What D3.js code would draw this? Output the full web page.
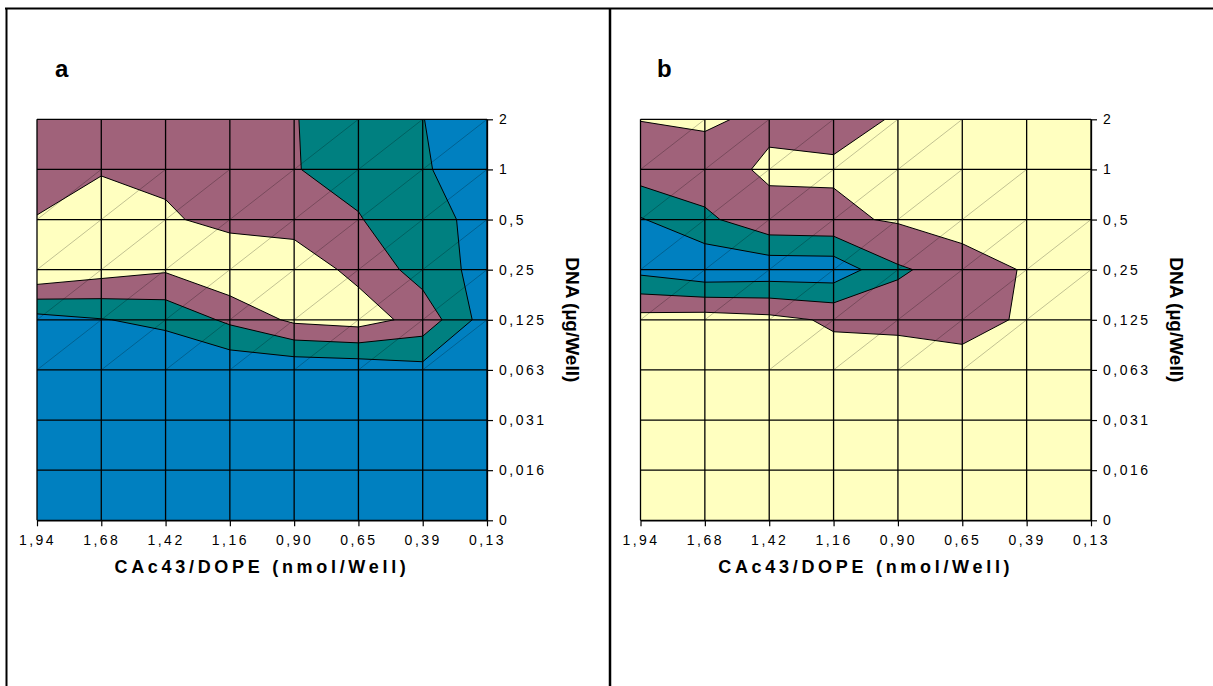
<!DOCTYPE html>
<html>
<head>
<meta charset="utf-8">
<script src="https://cdnjs.cloudflare.com/ajax/libs/d3/7.8.5/d3.min.js"></script>
<style>
body{margin:0;background:#fff;}
svg{display:block;font-family:Arial,'Liberation Sans',sans-serif;}
</style>
</head>
<body>
<div id="chart"></div>
<script>
// axis categories
const xLabels = ['1,94','1,68','1,42','1,16','0,90','0,65','0,39','0,13'];
const yLabels = ['2','1','0,5','0,25','0,125','0,063','0,031','0,016','0'];

// contour levels and band colours (lowest band first)
const thresholds = [1, 2, 3];
const bandColors = ['#0080C0', '#008080', '#A0627A', '#FFFFC0'];

// grid values, one row per DNA level (top = 2)
const panelA = [
  [2.6, 2.88, 2.79, 2.5, 2.04, 1.5, 1.02, 0.3],
  [2.6, 2.88, 2.79, 2.5, 2.04, 1.68, 1.1, 0.45],
  [3.04, 3.8, 3.14, 2.68, 2.67, 2.06, 1.3, 0.73],
  [4.0, 3.44, 3.11, 3.87, 3.5, 2.76, 1.57, 0.62],
  [0.6, 0.95, 1.26, 2.2, 3.21, 3.45, 2.64, 0.51],
  [0.3, 0.3, 0.05, 0.2, 0.21, 0.3, 0.68, 0.3],
  [0.3, 0.3, 0.05, 0.2, 0.21, 0.3, 0.68, 0.3],
  [0.3, 0.3, 0.05, 0.2, 0.21, 0.3, 0.68, 0.3],
  [0.3, 0.3, 0.05, 0.2, 0.21, 0.3, 0.68, 0.3]
];
const panelB = [
  [3.02, 3.1, 2.85, 2.76, 3.06, 3.5, 3.5, 3.5],
  [2.52, 2.69, 3.12, 3.1, 3.3, 3.5, 3.5, 3.5],
  [0.93, 1.77, 2.75, 2.83, 3.1, 3.53, 3.5, 3.5],
  [0.71, 0.17, 0.3, 0.33, 1.87, 2.43, 3.1, 3.5],
  [3.38, 3.5, 3.3, 2.85, 2.52, 2.5, 3.19, 3.5],
  [3.38, 3.5, 3.3, 3.48, 4.07, 3.52, 3.19, 3.5],
  [3.38, 3.5, 3.3, 3.48, 4.07, 3.52, 3.19, 3.5],
  [3.38, 3.5, 3.3, 3.48, 4.07, 3.52, 3.19, 3.5],
  [3.38, 3.5, 3.3, 3.48, 4.07, 3.52, 3.19, 3.5]
];

const xTitle = 'CAc43/DOPE (nmol/Well)';
const yTitle = 'DNA (\u00b5g/Well)';

const width = 1213, height = 686;
const svg = d3.select('#chart').append('svg')
  .attr('width', width).attr('height', height);
svg.append('rect').attr('width', width).attr('height', height).attr('fill', '#fff');

// table frame
svg.append('line').attr('x1', 5).attr('x2', width).attr('y1', 8.5).attr('y2', 8.5)
  .attr('stroke', '#000').attr('stroke-width', 2);
svg.append('line').attr('x1', 6.5).attr('x2', 6.5).attr('y1', 8).attr('y2', height)
  .attr('stroke', '#000').attr('stroke-width', 2);
svg.append('line').attr('x1', 610).attr('x2', 610).attr('y1', 8).attr('y2', height)
  .attr('stroke', '#000').attr('stroke-width', 2.5);

drawPanel(panelA, {id: 'a', left: 37, top: 119.3, w: 450, h: 401, letterX: 55});
drawPanel(panelB, {id: 'b', left: 640.5, top: 119.3, w: 450.5, h: 401, letterX: 657});

function drawPanel(rows, o) {
  const nx = xLabels.length, ny = yLabels.length;
  const g = svg.append('g').attr('transform', `translate(${o.left},${o.top})`);

  const x = d3.scalePoint().domain(xLabels).range([0, o.w]);
  const y = d3.scalePoint().domain(yLabels).range([0, o.h]);
  const xi = d3.scaleLinear().domain([0, nx - 1]).range([0, o.w]);
  const yi = d3.scaleLinear().domain([0, ny - 1]).range([0, o.h]);

  svg.append('clipPath').attr('id', 'clip-' + o.id)
    .append('rect').attr('width', o.w).attr('height', o.h);
  const plot = g.append('g').attr('clip-path', `url(#clip-${o.id})`);

  plot.append('rect').attr('width', o.w).attr('height', o.h).attr('fill', bandColors[0]);

  // contour bands
  const contours = d3.contours().size([nx, ny]).thresholds(thresholds)(rows.flat());
  const proj = d3.geoTransform({
    point: function(px, py) { this.stream.point(xi(px - 0.5), yi(py - 0.5)); }
  });
  const path = d3.geoPath(proj);
  plot.selectAll('.band')
    .data(contours)
    .enter().append('path')
    .attr('class', 'band')
    .attr('d', path)
    .attr('fill', (d, i) => bandColors[i + 1])
    .attr('fill-rule', 'evenodd')
    .attr('stroke', '#000')
    .attr('stroke-width', 1)
    .attr('stroke-linejoin', 'round');

  // triangulation diagonals in cells that are not flat
  const cells = [];
  for (let r = 0; r < ny - 1; r++) {
    for (let c = 0; c < nx - 1; c++) {
      const k = rows[r][c] + rows[r + 1][c + 1] - rows[r][c + 1] - rows[r + 1][c];
      if (Math.abs(k) > 0.01) cells.push({r, c});
    }
  }
  plot.selectAll('.diag')
    .data(cells)
    .enter().append('line')
    .attr('class', 'diag')
    .attr('x1', d => xi(d.c)).attr('y1', d => yi(d.r + 1))
    .attr('x2', d => xi(d.c + 1)).attr('y2', d => yi(d.r))
    .attr('stroke', 'rgba(0,0,0,0.35)')
    .attr('stroke-width', 0.7);

  // grid
  g.selectAll('.vgrid').data(xLabels).enter().append('line')
    .attr('x1', d => x(d)).attr('x2', d => x(d))
    .attr('y1', 0).attr('y2', o.h)
    .attr('stroke', '#000').attr('stroke-width', 1.3);
  g.selectAll('.hgrid').data(yLabels).enter().append('line')
    .attr('x1', 0).attr('x2', o.w)
    .attr('y1', d => y(d)).attr('y2', d => y(d))
    .attr('stroke', '#000').attr('stroke-width', 1.3);

  // axes
  const axisX = d3.axisBottom(x).tickSize(6).tickSizeOuter(0).tickPadding(9);
  const axisY = d3.axisRight(y).tickSize(6).tickSizeOuter(0).tickPadding(6);
  const ax = g.append('g').attr('transform', `translate(0,${o.h})`).call(axisX);
  const ay = g.append('g').attr('transform', `translate(${o.w},0)`).call(axisY);
  [ax, ay].forEach(a => {
    a.select('.domain').attr('stroke', '#000').attr('stroke-width', 1.3);
    a.selectAll('line').attr('stroke', '#000').attr('stroke-width', 1.2);
    a.selectAll('text')
      .attr('fill', '#000')
      .style('font-size', '14px')
      .style('letter-spacing', '2.5px')
      .style('font-family', "Arial,'Liberation Sans',sans-serif");
  });

  // titles
  g.append('text')
    .attr('x', o.w / 2).attr('y', o.h + 53)
    .attr('text-anchor', 'middle')
    .style('font-size', '18px').style('font-weight', 'bold')
    .style('letter-spacing', '3.7px')
    .text(xTitle);
  g.append('text')
    .attr('transform', `translate(${o.w + 79},${o.h / 2}) rotate(90)`)
    .attr('text-anchor', 'middle')
    .style('font-size', '19px').style('font-weight', 'bold')
    .text(yTitle);

  svg.append('text')
    .attr('x', o.letterX).attr('y', 77)
    .style('font-size', '24px').style('font-weight', 'bold')
    .text(o.id);
}
</script>
</body>
</html>
